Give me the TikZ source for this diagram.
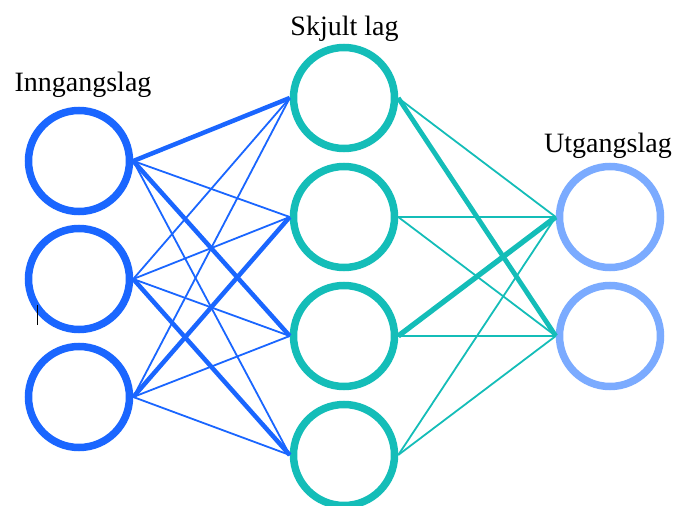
\documentclass[tikz,border=0pt]{standalone}
\usepackage{fontspec}
\setmainfont{Liberation Serif}
\definecolor{inblue}{HTML}{1A66FF}
\definecolor{hidteal}{HTML}{14BDB8}
\definecolor{outblue}{HTML}{7BABFF}
\begin{document}
\begin{tikzpicture}[x=1pt,y=-1pt,
  neuron/.style={circle,draw,line width=7.5pt,minimum size=101pt,inner sep=0pt},
  thinlink/.style={line width=1.8pt},
  thicklink/.style={line width=4.5pt},
  layername/.style={anchor=base,font=\fontsize{28}{32}\selectfont}]
\useasboundingbox (0,0) rectangle (673,506);
% input layer
\foreach \i/\y in {1/161,2/279,3/397}
  \node[neuron,draw=inblue] (in\i) at (79,\y) {};
% hidden layer
\foreach \i/\y in {1/98,2/217,3/336,4/455}
  \node[neuron,draw=hidteal] (h\i) at (344,\y) {};
% output layer
\foreach \i/\y in {1/217,2/336}
  \node[neuron,draw=outblue] (o\i) at (610,\y) {};
% layer names
\node[layername] (tin) at (83,91) {Inngangslag};
\node[layername] (thid) at (344.5,35) {Skjult lag};
\node[layername] (tout) at (608,152) {Utgangslag};
% input -> hidden
\begin{scope}[inblue]
\foreach \a/\b in {1/2,1/4,2/1,2/2,2/3,3/1,3/3,3/4}
  \draw[thinlink] (in\a.east) -- (h\b.west);
\foreach \a/\b in {1/1,1/3,2/4,3/2}
  \draw[thicklink] (in\a.east) -- (h\b.west);
\end{scope}
% hidden -> output
\begin{scope}[hidteal]
\foreach \a/\b in {1/1,2/1,2/2,3/2,4/1,4/2}
  \draw[thinlink] (h\a.east) -- (o\b.west);
\draw[line width=4.8pt] (h1.east) -- (o2.west);
\draw[line width=5.3pt] (h3.east) -- (o1.west);
\end{scope}
% small stray mark
\coordinate (m1) at (37,305);
\coordinate (m2) at (37,325);
\draw[line width=0.8pt] (m1) -- (m2);
\end{tikzpicture}
\end{document}
